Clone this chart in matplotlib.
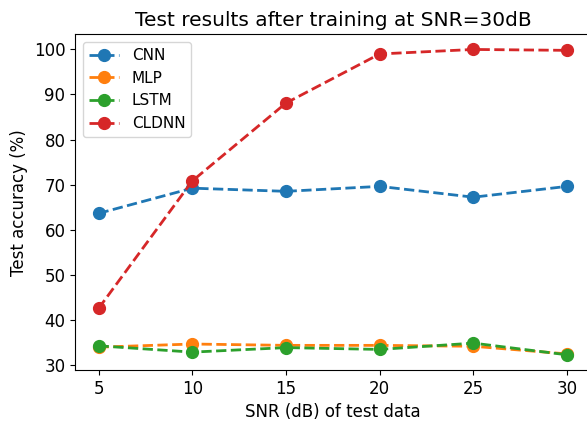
import matplotlib
matplotlib.use('Agg')
import matplotlib.pyplot as plt

snr = [5, 10, 15, 20, 25, 30]
cnn = [63.6, 69.2, 68.5, 69.6, 67.2, 69.6]
mlp = [33.9, 34.6, 34.3, 34.3, 34.1, 32.4]
lstm = [34.2, 32.8, 33.8, 33.4, 34.8, 32.2]
cldnn = [42.5, 70.8, 88.1, 99.0, 100.0, 99.8]

plt.rcParams['font.size'] = 12
plt.rcParams['lines.linewidth'] = 2.0
plt.rcParams['lines.markersize'] = 8.5

fig = plt.figure(figsize=(5.87, 4.22), dpi=100)
# right edge of the axes is cut off in the original picture
ax = fig.add_axes([0.128, 0.123, 0.878, 0.796])

ax.plot(snr, cnn, 'o--', label='CNN')
ax.plot(snr, mlp, 'o--', label='MLP')
ax.plot(snr, lstm, 'o--', label='LSTM')
ax.plot(snr, cldnn, 'o--', label='CLDNN')

ax.set_title('Test results after training at SNR=30dB', fontsize=14.5)
ax.set_xlabel('SNR (dB) of test data')
ax.set_ylabel('Test accuracy (%)')
ax.legend(loc='upper left', fontsize=11)

fig.savefig('out.png', dpi=100)
